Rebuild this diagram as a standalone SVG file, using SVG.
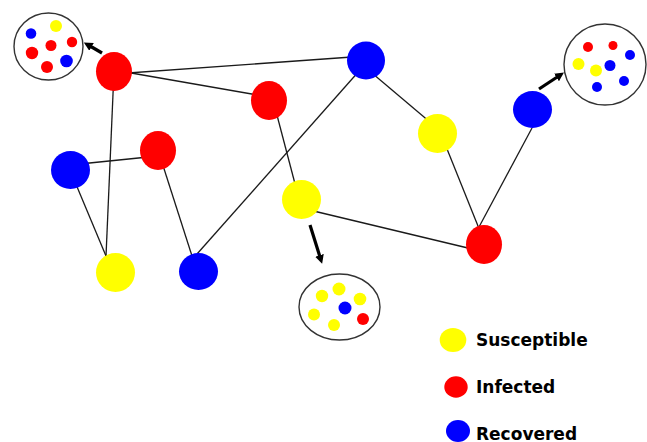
<svg xmlns="http://www.w3.org/2000/svg" width="647" height="442" viewBox="0 0 647 442">
<style>
.edge{stroke:#1a1a1a;stroke-width:1.3;fill:none}
.arrow{stroke:#000;stroke-width:3.2;fill:none;marker-end:url(#ah)}
.inset{fill:#fff;stroke:#333;stroke-width:1.4}
.S{fill:#ffff00}.I{fill:#ff0000}.R{fill:#0000ff}
.lbl{font-family:"DejaVu Sans",sans-serif;font-weight:bold;font-size:17px;fill:#000}
</style>
<defs>
<marker id="ah" viewBox="0 0 10 10" refX="2" refY="5" markerWidth="2.8" markerHeight="2.8" orient="auto" markerUnits="strokeWidth">
<path d="M0,0 L10,5 L0,10 z" fill="#000"/>
</marker>
</defs>
<rect width="647" height="442" fill="#fff"/>
<g id="connectors">
<line class="edge" x1="114" y1="74" x2="366" y2="56"/>
<line class="edge" x1="114" y1="70" x2="269" y2="97"/>
<line class="edge" x1="114" y1="71" x2="106" y2="256"/>
<line class="edge" x1="70" y1="165" x2="158" y2="156"/>
<line class="edge" x1="70" y1="170" x2="106" y2="256"/>
<line class="edge" x1="158" y1="150" x2="192" y2="256"/>
<line class="edge" x1="197" y1="254" x2="360" y2="70"/>
<line class="edge" x1="273" y1="100" x2="299" y2="199"/>
<line class="edge" x1="366" y1="68" x2="437" y2="128"/>
<line class="edge" x1="441" y1="134" x2="482" y2="236"/>
<line class="edge" x1="479" y1="227" x2="532" y2="128"/>
<line class="edge" x1="301" y1="208" x2="470" y2="248.5"/>
<line class="arrow" x1="102" y1="53" x2="90" y2="46"/>
<line class="arrow" x1="539" y1="89" x2="558" y2="76.5"/>
<line class="arrow" x1="310" y1="225" x2="320" y2="257"/>
</g>
<g id="n1"><ellipse class="I" cx="114" cy="71.5" rx="18" ry="19.5"/></g>
<g id="n2"><ellipse class="R" cx="366" cy="60.5" rx="19" ry="19"/></g>
<g id="n3"><ellipse class="I" cx="269" cy="100.5" rx="18" ry="19.5"/></g>
<g id="n4"><ellipse class="I" cx="158" cy="150.5" rx="18" ry="19.5"/></g>
<g id="n5"><ellipse class="R" cx="70.5" cy="170" rx="19.5" ry="19"/></g>
<g id="n6"><ellipse class="S" cx="437.5" cy="133.5" rx="19.5" ry="19.5"/></g>
<g id="n7"><ellipse class="R" cx="532.5" cy="109.5" rx="19.5" ry="18.5"/></g>
<g id="n8"><ellipse class="S" cx="301.5" cy="199.5" rx="19.5" ry="19.5"/></g>
<g id="n9"><ellipse class="I" cx="484" cy="244.5" rx="18" ry="19.5"/></g>
<g id="n10"><ellipse class="S" cx="115.5" cy="272.5" rx="19.5" ry="19.5"/></g>
<g id="n11"><ellipse class="R" cx="198.5" cy="271.5" rx="19.5" ry="18.5"/></g>
<g id="inset-topleft">
<ellipse class="inset" cx="48.5" cy="46.5" rx="34.5" ry="33.5"/>
<circle class="R" cx="31" cy="33.5" r="5.3"/>
<circle class="S" cx="56" cy="26" r="6"/>
<circle class="I" cx="72" cy="42" r="5.2"/>
<circle class="I" cx="51" cy="45.5" r="5.5"/>
<circle class="I" cx="32" cy="53" r="6.2"/>
<circle class="R" cx="66.5" cy="61" r="6.3"/>
<circle class="I" cx="47" cy="67" r="6"/>
</g>
<g id="inset-topright">
<ellipse class="inset" cx="605" cy="64.5" rx="41" ry="40.5"/>
<circle class="I" cx="588" cy="47" r="5"/>
<circle class="I" cx="613" cy="45.5" r="4.5"/>
<circle class="R" cx="630" cy="55" r="5"/>
<circle class="S" cx="578.5" cy="64" r="6"/>
<circle class="S" cx="596" cy="70.5" r="6"/>
<circle class="R" cx="610" cy="65.5" r="5.5"/>
<circle class="R" cx="624" cy="81" r="5"/>
<circle class="R" cx="597" cy="87" r="5"/>
</g>
<g id="inset-bottom">
<ellipse class="inset" cx="339.5" cy="307" rx="40.5" ry="33"/>
<circle class="S" cx="322" cy="296" r="6.2"/>
<circle class="S" cx="339" cy="289" r="6.5"/>
<circle class="S" cx="360" cy="299" r="6.3"/>
<circle class="S" cx="314" cy="314.5" r="6"/>
<circle class="R" cx="345" cy="308" r="6.5"/>
<circle class="I" cx="363" cy="319" r="6"/>
<circle class="S" cx="334" cy="325" r="6"/>
</g>
<g id="legend">
<ellipse class="S" cx="453" cy="340" rx="13.3" ry="12"/>
<text class="lbl" x="476" y="345.5">Susceptible</text>
<ellipse class="I" cx="456" cy="387" rx="11.7" ry="10.7"/>
<text class="lbl" x="476" y="393">Infected</text>
<ellipse class="R" cx="458" cy="431" rx="12" ry="11"/>
<text class="lbl" x="476" y="439.5">Recovered</text>
</g>
</svg>
